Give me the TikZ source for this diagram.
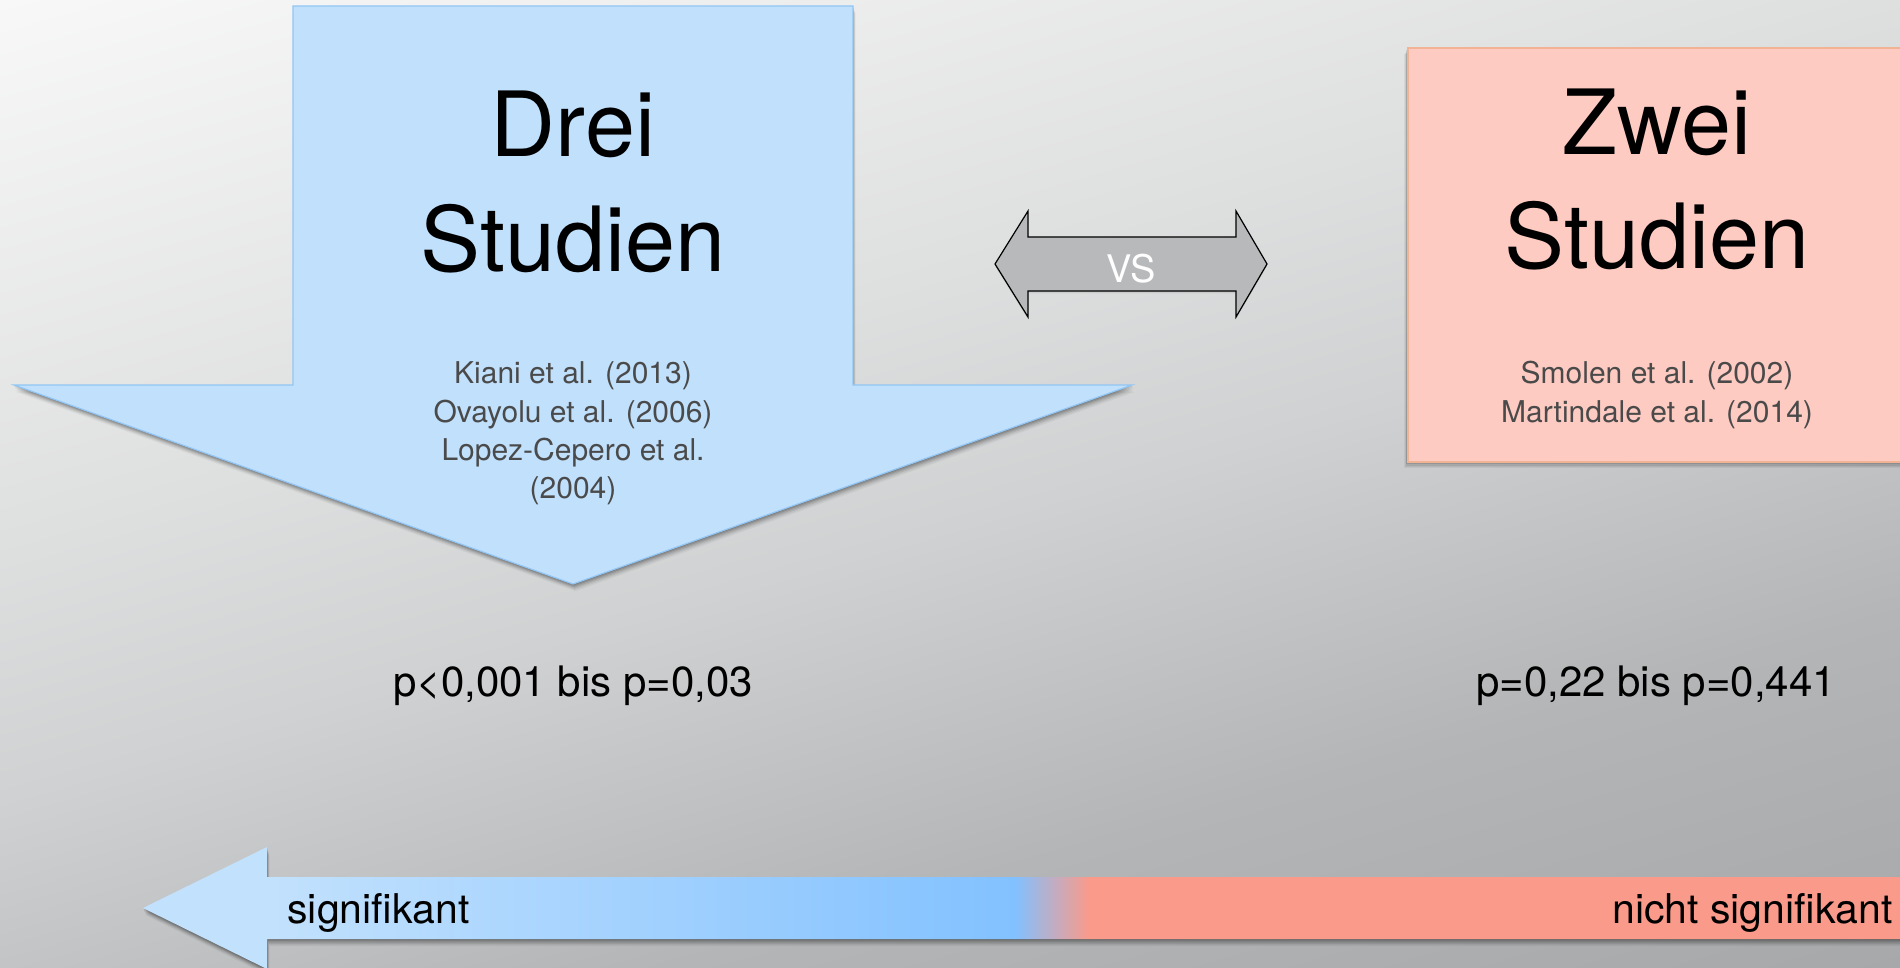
\documentclass[tikz,border=0pt]{standalone}
\usepackage{fontspec}
\setmainfont{TeX Gyre Heros}
\usetikzlibrary{shadows}
\definecolor{bgA}{HTML}{F8F8F8}
\definecolor{bgB}{HTML}{DEDFDF}
\definecolor{bgC}{HTML}{D0D1D2}
\definecolor{bgD}{HTML}{B3B5B6}
\definecolor{bgE}{HTML}{A6A8A9}
\definecolor{barA}{HTML}{C2E1FD}
\definecolor{barB}{HTML}{82C1FF}
\definecolor{barC}{HTML}{FA9A8A}
\definecolor{arrowblue}{HTML}{C1E0FC}
\definecolor{arrowedge}{HTML}{92C6F4}
\definecolor{boxpink}{HTML}{FDCBC2}
\definecolor{boxedge}{HTML}{F2B294}
\definecolor{vsgray}{HTML}{B8B9BB}
\definecolor{reftext}{HTML}{4A4A4A}
\pgfdeclarehorizontalshading{bgshade}{100bp}{color(0bp)=(bgA); color(25bp)=(bgA); color(42.9bp)=(bgB); color(51.4bp)=(bgC); color(63.25bp)=(bgD); color(75bp)=(bgE); color(100bp)=(bgE)}
\pgfdeclarehorizontalshading{barshade}{100bp}{color(0bp)=(barA); color(25bp)=(barA); color(28.5bp)=(barA); color(49.6bp)=(barB); color(51.7bp)=(barC); color(75bp)=(barC); color(100bp)=(barC)}
\tikzset{
  softshadow/.style={
    general shadow={shadow xshift=0.2pt, shadow yshift=-0.6pt, fill=black, opacity=0.12},
    general shadow={shadow xshift=0.4pt, shadow yshift=-1.2pt, fill=black, opacity=0.11},
    general shadow={shadow xshift=0.6pt, shadow yshift=-1.8pt, fill=black, opacity=0.09},
    general shadow={shadow xshift=0.8pt, shadow yshift=-2.4pt, fill=black, opacity=0.07},
    general shadow={shadow xshift=1.0pt, shadow yshift=-3.0pt, fill=black, opacity=0.05},
    general shadow={shadow xshift=1.2pt, shadow yshift=-3.6pt, fill=black, opacity=0.04}},
  boxshadow/.style={
    general shadow={shadow xshift=-0.4pt, shadow yshift=-0.6pt, fill=black, opacity=0.11},
    general shadow={shadow xshift=-0.8pt, shadow yshift=-1.2pt, fill=black, opacity=0.10},
    general shadow={shadow xshift=-1.2pt, shadow yshift=-1.8pt, fill=black, opacity=0.08},
    general shadow={shadow xshift=-1.6pt, shadow yshift=-2.4pt, fill=black, opacity=0.06},
    general shadow={shadow xshift=-2.0pt, shadow yshift=-3.0pt, fill=black, opacity=0.05}},
  smallshadow/.style={
    general shadow={shadow xshift=0pt, shadow yshift=-0.6pt, fill=black, opacity=0.08},
    general shadow={shadow xshift=0pt, shadow yshift=-1.2pt, fill=black, opacity=0.06}},
  titletext/.style={anchor=base, inner sep=0pt, text=black, font=\fontsize{45}{54}\selectfont},
  reftextstyle/.style={anchor=base, inner sep=0pt, text=reftext, font=\fontsize{15}{18}\selectfont},
  pvaltext/.style={anchor=base, inner sep=0pt, text=black, font=\fontsize{21}{25}\selectfont},
  bartext/.style={inner sep=0pt, text=black, font=\fontsize{20.5}{24}\selectfont},
}
\begin{document}
\begin{tikzpicture}[x=0.5pt,y=-0.5pt]
\useasboundingbox (0,0) rectangle (1900,968);
% background
\begin{scope}
  \clip (0,0) rectangle (1900,968);
  \begin{scope}[transform canvas={rotate=-74}]
    \shade[shading=bgshade] (0,-1900) rectangle (1455,300);
  \end{scope}
\end{scope}
% big down arrow
\path[fill=arrowblue, draw=arrowedge, line width=0.6pt, softshadow]
  (293,6) -- (853,6) -- (853,385) -- (1132,385) -- (573,584) -- (14,385) -- (293,385) -- cycle;
% pink box
\path[fill=boxpink, draw=boxedge, line width=0.6pt, boxshadow]
  (1408,48) rectangle (1915,462);
% vs double arrow
\path[fill=vsgray, draw=black, line width=0.6pt, smallshadow]
  (995,264) -- (1028,211) -- (1028,237) -- (1236,237) -- (1236,211) -- (1267,264)
  -- (1236,317) -- (1236,291) -- (1028,291) -- (1028,317) -- cycle;
% bottom arrow
\shade[shading=barshade, softshadow]
  (143,908) -- (267,847) -- (267,877) -- (1915,877) -- (1915,939) -- (267,939) -- (267,969) -- cycle;
% texts
\node[titletext] (drei) at (573,157) {Drei};
\node[titletext] (dreistud) at (573,271) {Studien};
\node[titletext] (zwei) at (1657,155) {Zwei};
\node[titletext] (zweistud) at (1657,269) {Studien};
\node[reftextstyle] (ref1) at (573,383) {Kiani et al. (2013)};
\node[reftextstyle] (ref2) at (573,422) {Ovayolu et al. (2006)};
\node[reftextstyle] (ref3) at (573,460) {Lopez-Cepero et al.};
\node[reftextstyle] (ref4) at (573,498) {(2004)};
\node[reftextstyle] (ref5) at (1657,383) {Smolen et al. (2002)};
\node[reftextstyle] (ref6) at (1657,422) {Martindale et al. (2014)};
\node[pvaltext] (pleft) at (573,696) {p<0,001 bis p=0,03};
\node[pvaltext] (pright) at (1656,696) {p=0,22 bis p=0,441};
\node[anchor=base, inner sep=0pt, text=white, font=\fontsize{19}{22}\selectfont] (vs) at (1131,283) {VS};
\node[bartext, anchor=base west] (sig) at (287,923) {signifikant};
\node[bartext, anchor=base east] (nsig) at (1893,923) {nicht signifikant};
\end{tikzpicture}
\end{document}
